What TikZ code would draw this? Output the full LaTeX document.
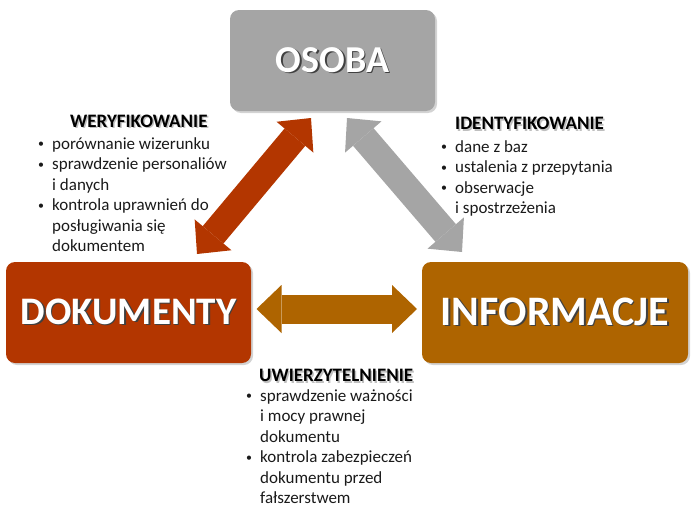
\documentclass[tikz,border=0pt]{standalone}
\usepackage{fontspec}
\setmainfont{Carlito}
\usepackage{tikz}
\usetikzlibrary{arrows.meta, shadows, positioning}
\definecolor{osobaGray}{HTML}{A5A5A5}
\definecolor{dokRust}{HTML}{B33600}
\definecolor{infoOchre}{HTML}{AE6400}
\definecolor{txtDark}{HTML}{1A1A1A}
% text with a shadow: shadow colour, text colour, text
\newcommand\shtxt[3]{\makebox[0pt][l]{\hspace{1.5pt}\raisebox{-1.5pt}{\color{#1}#3}}{\color{#2}#3}}
\newcommand\blt{\makebox[14pt][l]{\raisebox{1.6pt}{\scalebox{0.7}{\textbullet}}}}
\newcommand\cnt{\hspace*{14pt}}

\begin{document}
\begin{tikzpicture}[x=1pt, y=-1pt,
  bigbox/.style={rectangle, rounded corners=9pt, inner sep=0pt,
    drop shadow={shadow xshift=2pt, shadow yshift=-2pt, opacity=0.35}},
  headtxt/.style={anchor=base west, inner sep=0pt, font=\fontsize{19}{22}\selectfont\bfseries},
  listtxt/.style={anchor=north west, inner sep=0pt, align=left, text=txtDark,
    font=\fontsize{17}{20.4}\selectfont},
  fatarrow/.style={line width=#1,
    {Triangle[width=48pt, length=25pt, line width=0pt]}-{Triangle[width=48pt, length=25pt, line width=0pt]}}]
\useasboundingbox (0,0) rectangle (691,506);

% the three boxes
\node[bigbox, fill=osobaGray, minimum width=205pt, minimum height=101pt] (osoba) at (332.5,60.5)
  {\fontsize{38}{40}\selectfont\bfseries\shtxt{black!75}{white}{OSOBA}};
\node[bigbox, fill=dokRust, minimum width=245pt, minimum height=101pt] (dok) at (128.5,312.5)
  {\fontsize{39}{41}\selectfont\bfseries\shtxt{black!75}{white}{DOKUMENTY}};
\node[bigbox, fill=infoOchre, minimum width=266pt, minimum height=101pt] (info) at (555,312.5)
  {\fontsize{42}{44}\selectfont\bfseries\shtxt{black!75}{white}{INFORMACJE}};

% arrow ends
\coordinate (wer-a) at (197,254);
\coordinate (wer-b) at (311,118);
\coordinate (ide-a) at (347,118);
\coordinate (ide-b) at (462,252);
\coordinate (uwi-a) at (256.5,309);
\coordinate (uwi-b) at (417,309);

\draw[fatarrow=27pt, dokRust] (wer-a) -- (wer-b);
\draw[fatarrow=27pt, osobaGray] (ide-a) -- (ide-b);
\draw[fatarrow=29pt, infoOchre] (uwi-a) -- (uwi-b);

% weryfikowanie
\node[headtxt] (werhead) at (70,127) {\shtxt{black!25}{black}{WERYFIKOWANIE}};
\node[listtxt] (werlist) at (38,135) {\strut\blt porównanie wizerunku\\
  \blt sprawdzenie personaliów\\
  \cnt i danych\\
  \blt kontrola uprawnień do\\
  \cnt posługiwania się\\
  \cnt dokumentem};

% identyfikowanie
\node[headtxt] (idehead) at (455,129.5) {\shtxt{black!25}{black}{IDENTYFIKOWANIE}};
\node[listtxt] (idelist) at (441,138) {\strut\blt dane z baz\\
  \blt ustalenia z przepytania\\
  \blt obserwacje\\
  \cnt i spostrzeżenia};

% uwierzytelnienie
\node[headtxt] (uwihead) at (259,381.5) {\shtxt{black!25}{black}{UWIERZYTELNIENIE}};
\node[listtxt] (uwilist) at (246,387) {\strut\blt sprawdzenie ważności\\
  \cnt i mocy prawnej\\
  \cnt dokumentu\\
  \blt kontrola zabezpieczeń\\
  \cnt dokumentu przed\\
  \cnt fałszerstwem};
\end{tikzpicture}
\end{document}
